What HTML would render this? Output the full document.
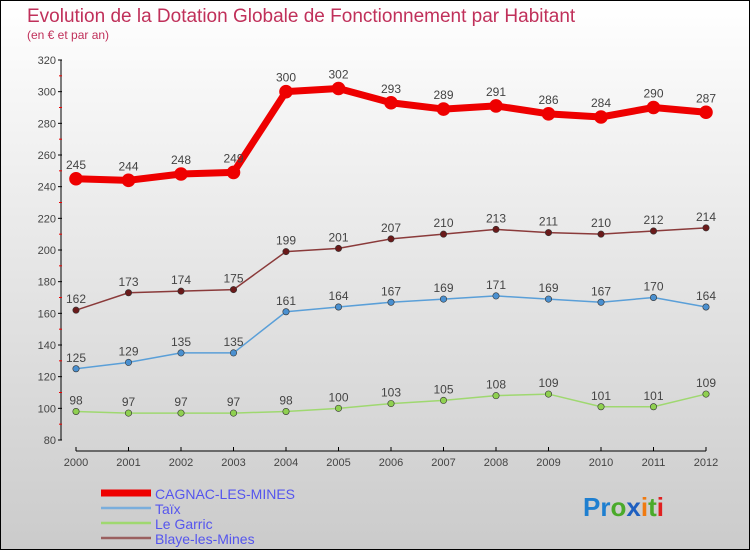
<!DOCTYPE html>
<html><head><meta charset="utf-8"><style>
body{margin:0}
#wrap{width:748px;height:548px;border:1px solid #000;background:linear-gradient(#ffffff,#cbcbcb);position:relative;font-family:"Liberation Sans",sans-serif;overflow:hidden}
</style></head><body>
<div id="wrap">
<svg id="c" width="748" height="548" style="position:absolute;left:0;top:0">
<text x="26" y="21" font-size="19" fill="#c0305a">Evolution de la Dotation Globale de Fonctionnement par Habitant</text>
<text x="26" y="38" font-size="12" fill="#c0305a">(en € et par an)</text>
<g id="axes"></g><g id="series"></g><g id="legend"></g>
<text x="582" y="515" font-size="26" font-weight="bold"><tspan fill="#1e7fd0">Pr</tspan><tspan fill="#4aaa2a">o</tspan><tspan fill="#1e5fc0">x</tspan><tspan fill="#f07a10">i</tspan><tspan fill="#4aaa2a">t</tspan><tspan fill="#e02020">i</tspan></text>
</svg>
</div>
<script>
const years=[2000,2001,2002,2003,2004,2005,2006,2007,2008,2009,2010,2011,2012];
const cagnac=[245,244,248,249,300,302,293,289,291,286,284,290,287];
const taix=[125,129,135,135,161,164,167,169,171,169,167,170,164];
const garric=[98,97,97,97,98,100,103,105,108,109,101,101,109];
const blaye=[162,173,174,175,199,201,207,210,213,211,210,212,214];
const yTicks=[80,100,120,140,160,180,200,220,240,260,280,300,320];
const NS="http://www.w3.org/2000/svg";
const X=i=>75+i*(705-75)/12;
const Y=v=>439-(v-80)*(439-59)/240;
function mk(tag,attrs,parent,txt){const e=document.createElementNS(NS,tag);for(const k in attrs)e.setAttribute(k,attrs[k]);if(txt!==undefined)e.textContent=txt;parent.appendChild(e);return e;}
const ax=document.getElementById('axes');
let yl=mk('line',{x1:60,x2:60,y1:59,y2:439,stroke:'#000'},ax);


yTicks.forEach(v=>{mk('line',{x1:57,x2:61,y1:Y(v),y2:Y(v),stroke:'#000'},ax);
 if(v<320)mk('line',{x1:58,x2:61,y1:Y(v+10),y2:Y(v+10),stroke:'#e00'},ax);
 const t=mk('text',{x:55,y:Y(v)+4,'font-size':11,'text-anchor':'end',fill:'#444'},ax,v);
 
 });
let xl=mk('line',{x1:75,x2:705,y1:450,y2:450,stroke:'#000'},ax);


years.forEach((y,i)=>{mk('line',{x1:X(i),x2:X(i),y1:446,y2:450,stroke:'#000'},ax);
 const t=mk('text',{x:X(i),y:465,'font-size':11,'text-anchor':'middle',fill:'#444'},ax,y);
 
 });
const sg=document.getElementById('series');
function draw(data,color,dot,w,r,name){
 const g=mk('g',{},sg);
 
 
 mk('polyline',{points:data.map((v,i)=>X(i)+','+Y(v)).join(' '),fill:'none',stroke:color,'stroke-width':w,'stroke-linejoin':'round'},g);
 data.forEach((v,i)=>{const c=mk('circle',{cx:X(i),cy:Y(v),r:r,fill:dot,stroke:w>3?dot:'#333','stroke-width':0.6},g);
  
  
  const t=mk('text',{x:X(i),y:Y(v)-(w>3?10:7),'font-size':12,'text-anchor':'middle',fill:'#444'},g,v);
  
  });
}
draw(garric,'#9fd870','#8fd050',1.5,3.2,'le-garric');
draw(taix,'#5a9fd8','#4a90d0',1.5,3.2,'taix');
draw(blaye,'#8a3a3a','#6a1a1a',1.5,3.2,'blaye-les-mines');
draw(cagnac,'#ee0000','#ee0000',7,6.5,'cagnac-les-mines');
const lg=document.getElementById('legend');
[['CAGNAC-LES-MINES','#ee0000',7],['Taïx','#7aaedc',2.5],['Le Garric','#9fd870',2.5],['Blaye-les-Mines','#9a6060',2.5]].forEach((e,i)=>{
 const yy=492+i*15;
 const g=mk('g',{},lg);
 
 
 mk('line',{x1:100,x2:150,y1:yy,y2:yy,stroke:e[1],'stroke-width':e[2]},g);
 mk('text',{x:154,y:yy+6,'font-size':14,fill:'#5555ee'},g,e[0]);
});
</script>
</body></html>
